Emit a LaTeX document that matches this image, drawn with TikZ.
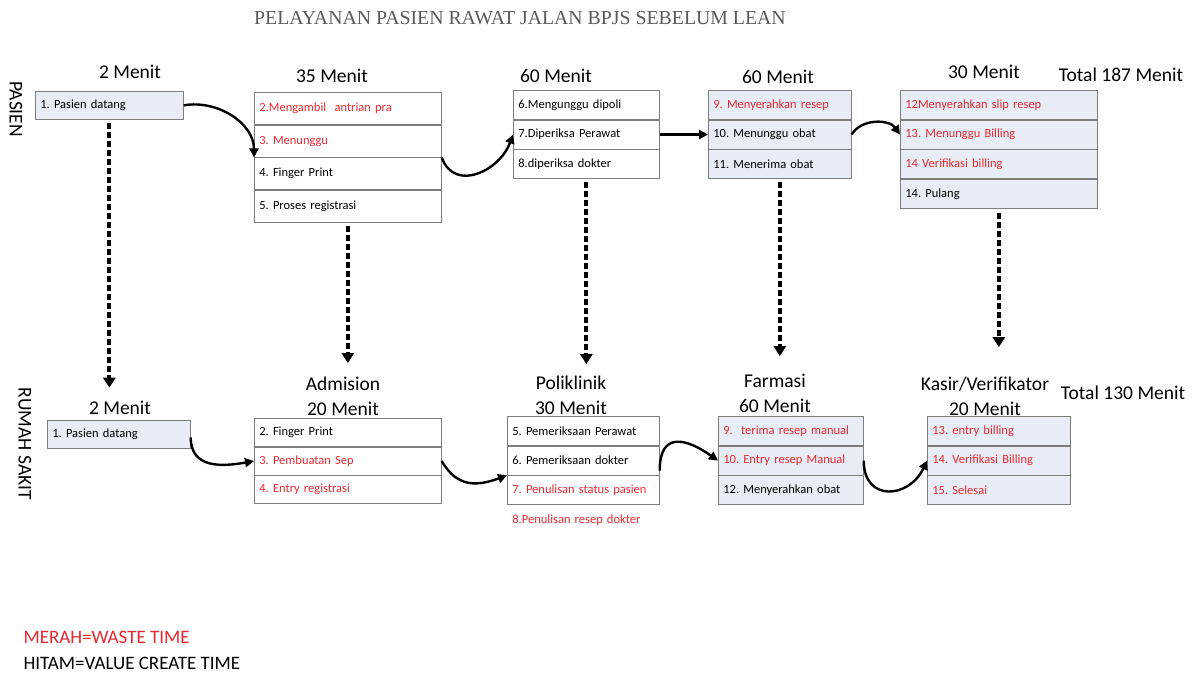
\documentclass[tikz,border=0pt]{standalone}
\usepackage{fontspec}
\setmainfont{Carlito}
\newfontfamily\titlefont{Liberation Serif}
\usetikzlibrary{arrows.meta}
\definecolor{boxblue}{RGB}{232,237,245}
\definecolor{wastered}{RGB}{232,40,48}
\definecolor{rowline}{RGB}{125,125,125}
\tikzset{
  rowbox/.style={draw=rowline, line width=0.7pt, anchor=north west,
    minimum height=29pt, inner xsep=5pt, inner ysep=0pt,
    text width=#1, align=left, font=\fontsize{12.5}{14}\selectfont},
  waste/.style={text=wastered},
  shade/.style={fill=boxblue},
  menit/.style={font=\fontsize{19.5}{25}\selectfont, align=center},
  flow/.style={-{Triangle[length=9pt,width=9pt]}, line width=2.4pt},
  dropline/.style={-{Triangle[length=10pt,width=12pt]}, line width=3.8pt,
    dash pattern=on 6pt off 3pt}
}
\frenchspacing

\begin{document}
\begin{tikzpicture}[x=1pt,y=-1pt]
  \useasboundingbox (0,0) rectangle (1199,678);
  \node[font=\titlefont\fontsize{19.8}{21}\selectfont, text=black!65]
       (title) at (520,18) {PELAYANAN PASIEN RAWAT JALAN BPJS SEBELUM LEAN};
  \node[rotate=-90, font=\fontsize{19.5}{20}\selectfont] (pasien) at (16,109) {PASIEN};
  \node[rotate=-90, font=\fontsize{19.5}{20}\selectfont] (rs) at (25,444) {RUMAH SAKIT};

  % pasien
  \node[menit] (ph1) at (130,72) {2 Menit};
  \node[menit] (ph2) at (332,76) {35 Menit};
  \node[menit] (ph3) at (556,76) {60 Menit};
  \node[menit] (ph4) at (778,77) {60 Menit};
  \node[menit] (ph5) at (984,72) {30 Menit};
  \node[menit] (ptot) at (1121,75) {Total 187 Menit};

  \node[rowbox=138pt, shade, minimum height=28pt] (p1a) at (35,91) {1. Pasien datang};

  \node[rowbox=177pt, waste, minimum height=32pt] (p2a) at (254,92) {2.Mengambil\ \ antrian pra};
  \node[rowbox=177pt, waste, minimum height=32pt] (p2b) at (p2a.south west) {3. Menunggu};
  \node[rowbox=177pt, minimum height=32pt] (p2c) at (p2b.south west) {4. Finger Print};
  \node[rowbox=177pt, minimum height=32pt] (p2d) at (p2c.south west) {5. Proses registrasi};

  \node[rowbox=136pt] (p3a) at (513,90) {6.Mengunggu dipoli};
  \node[rowbox=136pt] (p3b) at (p3a.south west) {7.Diperiksa Perawat};
  \node[rowbox=136pt] (p3c) at (p3b.south west) {8.diperiksa dokter};

  \node[rowbox=133pt, shade, waste] (p4a) at (708,90) {9. Menyerahkan resep};
  \node[rowbox=133pt, shade] (p4b) at (p4a.south west) {10. Menunggu obat};
  \node[rowbox=133pt, shade] (p4c) at (p4b.south west) {11. Menerima obat};

  \node[rowbox=187pt, shade, waste] (p5a) at (900,90) {12Menyerahkan slip resep};
  \node[rowbox=187pt, shade, waste] (p5b) at (p5a.south west) {13. Menunggu Billing};
  \node[rowbox=187pt, shade, waste] (p5c) at (p5b.south west) {14 Verifikasi billing};
  \node[rowbox=187pt, shade] (p5d) at (p5c.south west) {14. Pulang};

  \draw[flow] (p1a.east) to[out=10,in=90] (p2b.south west);
  \draw[flow] (p2b.south east) to[out=-70,in=-110,looseness=1.3] (p3b.west);
  \draw[flow] (p3b.east) -- (p4b.west);
  \draw[flow] (p4b.east) to[out=60,in=125] (p5b.west);

  % rumah sakit
  \node[menit] (rh1) at (120,408) {2 Menit};
  \node[menit] (rh2) at (343,396) {Admision\\20 Menit};
  \node[menit] (rh3) at (571,395) {Poliklinik\\30 Menit};
  \node[menit] (rh4) at (775,393) {Farmasi\\60 Menit};
  \node[menit] (rh5) at (985,396) {Kasir/Verifikator\\20 Menit};
  \node[menit] (rtot) at (1123,393) {Total 130 Menit};

  \node[rowbox=133pt, shade, minimum height=28pt] (r1a) at (47,420) {1. Pasien datang};

  \node[rowbox=177pt, minimum height=28pt] (r2a) at (254,418) {2. Finger Print};
  \node[rowbox=177pt, waste, minimum height=28pt] (r2b) at (r2a.south west) {3. Pembuatan Sep};
  \node[rowbox=177pt, waste, minimum height=28pt] (r2c) at (r2b.south west) {4. Entry registrasi};

  \node[rowbox=142pt] (r3a) at (507,416) {5. Pemeriksaan Perawat};
  \node[rowbox=142pt] (r3b) at (r3a.south west) {6. Pemeriksaan dokter};
  \node[rowbox=142pt, waste] (r3c) at (r3b.south west) {7. Penulisan status pasien};
  \node[rowbox=142pt, waste, draw=white] (r3d) at (r3c.south west) {8.Penulisan resep dokter};

  \node[rowbox=135pt, shade, waste] (r4a) at (718,416) {9.\ \ terima resep manual};
  \node[rowbox=135pt, shade, waste] (r4b) at (r4a.south west) {10. Entry resep Manual};
  \node[rowbox=135pt, shade] (r4c) at (r4b.south west) {12. Menyerahkan obat};

  \node[rowbox=133pt, shade, waste] (r5a) at (927,416) {13. entry billing};
  \node[rowbox=133pt, shade, waste] (r5b) at (r5a.south west) {14. Verifikasi Billing};
  \node[rowbox=133pt, shade, waste] (r5c) at (r5b.south west) {15. Selesai};

  \draw[flow] ([yshift=-3pt]r1a.east) to[out=-90,in=190,looseness=1.2] (r2b.west);
  \draw[flow] (r2b.east) to[out=-60,in=200,looseness=1.2] (r3b.south west);
  \draw[flow] ([yshift=-10pt]r3b.east) to[out=90,in=145,looseness=1.7] (r4b.west);
  \draw[flow] (r4b.east) to[out=-90,in=-115,looseness=1.7] (r5b.west);

  \draw[dropline, shorten <=3pt, shorten >=10pt] (p1a.south) -- (p1a.south |- rh1.north);
  \draw[dropline, shorten <=3pt, shorten >=10pt] (p2d.south) -- (p2d.south |- rh2.north);
  \draw[dropline, shorten <=3pt, shorten >=8pt] (p3c.south) -- (p3c.south |- rh3.north);
  \draw[dropline, shorten <=3pt, shorten >=14pt] (p4c.south) -- (p4c.south |- rh4.north);
  \draw[dropline, shorten <=4pt, shorten >=26pt] (p5d.south) -- (p5d.south |- rh5.north);

  \node[anchor=west, text=wastered, font=\fontsize{19}{20}\selectfont] (merah) at (20,637) {MERAH=WASTE TIME};
  \node[anchor=west, font=\fontsize{19}{20}\selectfont] (hitam) at (20,663) {HITAM=VALUE CREATE TIME};
\end{tikzpicture}
\end{document}
